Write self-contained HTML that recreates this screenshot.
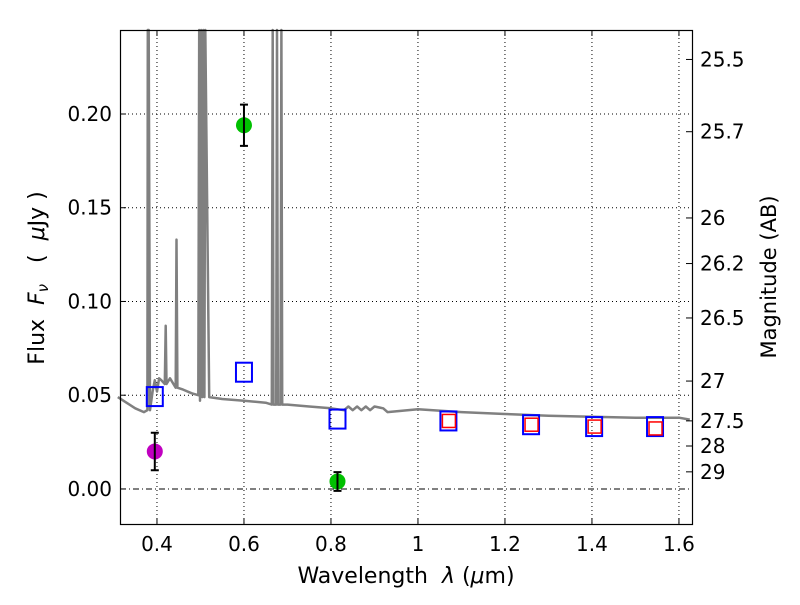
<!DOCTYPE html>
<html><head><meta charset="utf-8"><style>
body{margin:0;background:#fff;}
svg text{font-family:"DejaVu Sans","Liberation Sans",sans-serif;font-size:20px;fill:#000;white-space:pre;}
</style></head><body>
<svg id="chart" width="800" height="600" xmlns="http://www.w3.org/2000/svg">
<rect x="0" y="0" width="800" height="600" fill="#fff"/>
<g id="grid"></g>
<g id="spec"></g>
<g id="pts"></g>
<rect x="120.5" y="30.5" width="572" height="494" fill="none" stroke="#000" stroke-width="1.2"/>
<g id="axes"></g>
<text x="406" y="583" text-anchor="middle" style="font-size:22px">Wavelength  <tspan font-style="italic">λ</tspan> (<tspan font-style="italic">μ</tspan>m)</text>
<text transform="translate(44,278) rotate(-90)" text-anchor="middle" style="font-size:22px">Flux  <tspan font-style="italic">F<tspan font-size="15" dy="4">ν</tspan></tspan><tspan dy="-4">   (  </tspan><tspan font-style="italic">μ</tspan>Jy )</text>
<text transform="translate(776,277) rotate(-90)" text-anchor="middle" style="font-size:21px">Magnitude (AB)</text>
</svg>
<script>
const xTicks=[0.4,0.6,0.8,1.0,1.2,1.4,1.6];
const xTickLabels=["0.4","0.6","0.8","1","1.2","1.4","1.6"];
const yTicks=[0,0.05,0.10,0.15,0.20];
const yTickLabels=["0.00","0.05","0.10","0.15","0.20"];
const magTicks=[25.5,25.7,26,26.2,26.5,27,27.5,28,29];
const specLam=[0.31,0.33,0.35,0.37,0.378,0.379,0.381,0.384,0.39,0.395,0.40,0.405,0.41,0.418,0.42,0.422,0.43,0.443,0.445,0.447,0.46,0.48,0.495,0.497,0.499,0.502,0.504,0.507,0.509,0.511,0.52,0.55,0.6,0.65,0.664,0.666,0.668,0.674,0.676,0.678,0.684,0.686,0.688,0.7,0.75,0.8,0.83,0.84,0.85,0.86,0.87,0.88,0.89,0.9,0.92,0.93,1.0,1.1,1.2,1.3,1.4,1.5,1.6,1.625];
const specFlux=[0.049,0.046,0.043,0.041,0.042,0.26,0.26,0.042,0.052,0.058,0.052,0.059,0.058,0.056,0.087,0.056,0.059,0.054,0.133,0.054,0.053,0.051,0.05,0.26,0.047,0.26,0.049,0.26,0.049,0.26,0.049,0.048,0.047,0.046,0.045,0.26,0.045,0.045,0.26,0.045,0.045,0.26,0.045,0.045,0.044,0.043,0.042,0.044,0.042,0.044,0.042,0.044,0.042,0.044,0.043,0.041,0.0425,0.041,0.040,0.039,0.0385,0.038,0.038,0.037];
const blueLam=[0.395,0.60,0.815,1.07,1.26,1.405,1.545];
const blueFlux=[0.049,0.062,0.037,0.036,0.034,0.033,0.033];
const redLam=[1.07,1.26,1.405,1.545];
const redFlux=[0.036,0.034,0.033,0.032];
const greenLam=[0.60,0.815];
const greenFlux=[0.194,0.004];
const greenErr=[0.011,0.005];
const magentaLam=[0.395];
const magentaFlux=[0.020];
const magentaErr=[0.010];

const X0=120,X1=692,Y0=30,Y1=524;
const xmin=0.315,xmax=1.63,ymin=-0.0187,ymax=0.2448;
const sx=v=>X0+(v-xmin)/(xmax-xmin)*(X1-X0);
const sy=v=>Y1-(v-ymin)/(ymax-ymin)*(Y1-Y0);
const NS="http://www.w3.org/2000/svg";
function mk(tag,attrs,parent){const e=document.createElementNS(NS,tag);for(const k in attrs)e.setAttribute(k,attrs[k]);document.getElementById(parent).appendChild(e);return e;}

xTicks.forEach((t,i)=>{
  const x=sx(t);
  let g=mk('line',{x1:x,x2:x,y1:Y0,y2:Y1,stroke:'#000','stroke-width':1,'stroke-dasharray':'1,3'},'grid');
  
  
  mk('line',{x1:x,x2:x,y1:Y1,y2:Y1-6,stroke:'#000'},'axes');
  mk('line',{x1:x,x2:x,y1:Y0,y2:Y0+6,stroke:'#000'},'axes');
  let l=mk('text',{x:x,y:Y1+27,'text-anchor':'middle'},'axes');
  l.textContent=xTickLabels[i];
  
  
});
yTicks.forEach((t,i)=>{
  const y=sy(t);
  let g=mk('line',{x1:X0,x2:X1,y1:y,y2:y,stroke:'#000','stroke-width':1,'stroke-dasharray':t===0?'6,3,1,3':'1,3'},'grid');
  
  
  mk('line',{x1:X0,x2:X0+6,y1:y,y2:y,stroke:'#000'},'axes');
  let l=mk('text',{x:X0-8,y:y+7,'text-anchor':'end'},'axes');
  l.textContent=yTickLabels[i];
  
  
});
magTicks.forEach(m=>{
  const f=Math.pow(10,(23.9-m)/2.5);
  const y=sy(f);
  mk('line',{x1:X1,x2:X1-6,y1:y,y2:y,stroke:'#000'},'axes');
  let l=mk('text',{x:X1+8,y:y+7,'text-anchor':'start'},'axes');
  l.textContent=String(m);
  
  
});
let d='';
specLam.forEach((v,i)=>{d+=(i?'L':'M')+sx(v).toFixed(1)+','+Math.max(sy(specFlux[i]),Y0).toFixed(1);});
let sp=mk('path',{d:d,fill:'none',stroke:'#808080','stroke-width':2.5,'stroke-linejoin':'round'},'spec');



function circ(lams,fl,er,color,name){
  lams.forEach((v,i)=>{
    const x=sx(v),y=sy(fl[i]);
    let c=mk('circle',{cx:x,cy:y,r:8,fill:color},'pts');
    
    
    const y1=sy(fl[i]+er[i]),y2=sy(fl[i]-er[i]);
    let e=mk('path',{d:`M${x},${y1}V${y2}M${x-4},${y1}H${x+4}M${x-4},${y2}H${x+4}`,stroke:'#000','stroke-width':2,fill:'none'},'pts');
    
    
  });
}
circ(greenLam,greenFlux,greenErr,'#00c000','green-photometry-point');
circ(magentaLam,magentaFlux,magentaErr,'#c000c0','magenta-photometry-point');
blueLam.forEach((v,i)=>{
  let r=mk('rect',{x:sx(v)-8,y:sy(blueFlux[i])-10,width:16,height:19,fill:'none',stroke:'#0000ff','stroke-width':2},'pts');
  
  
});
redLam.forEach((v,i)=>{
  let r=mk('rect',{x:sx(v)-6,y:sy(redFlux[i])-7,width:13,height:13,fill:'none',stroke:'#ff0000','stroke-width':1.5},'pts');
  
  
});
</script>
</body></html>
